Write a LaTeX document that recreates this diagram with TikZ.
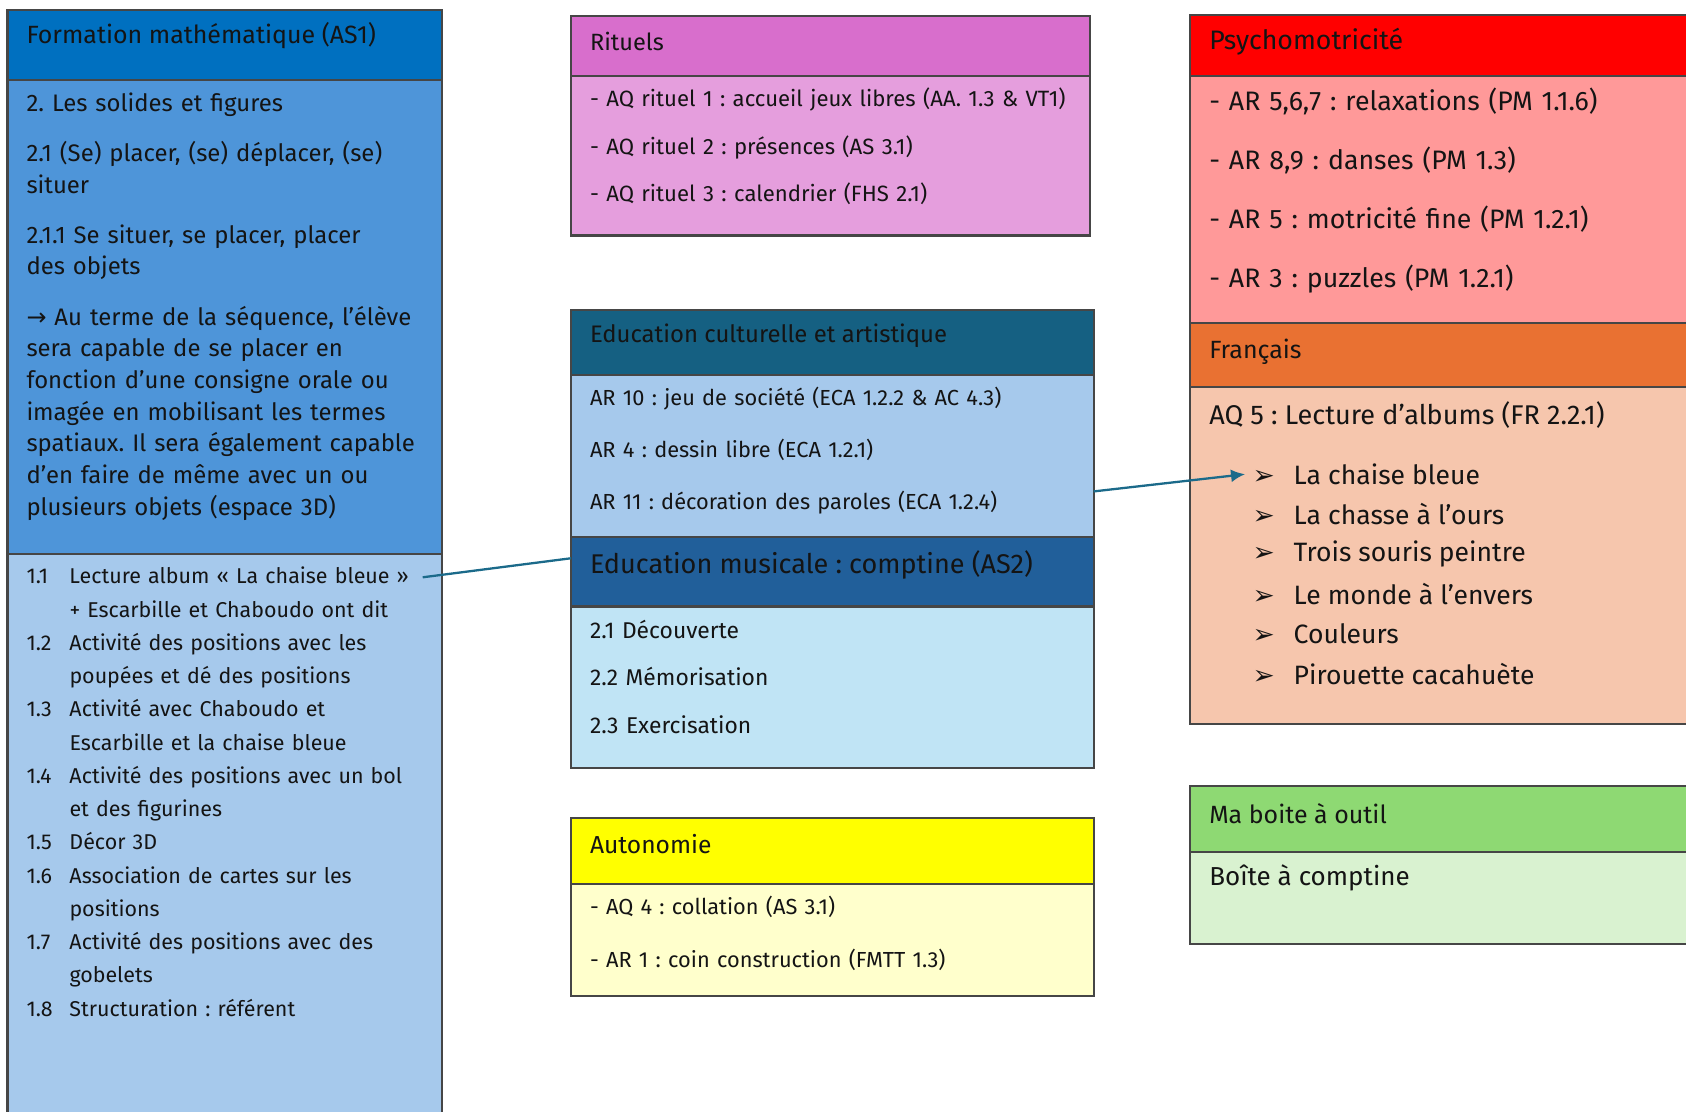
\documentclass[tikz,border=0pt]{standalone}
\usepackage{fontspec}
\setmainfont{Fira Sans}
\newfontfamily\symfont{DejaVu Sans}
\usetikzlibrary{arrows.meta,positioning,calc}
\frenchspacing
\definecolor{PlanEdge}{RGB}{70,70,70}
\definecolor{PlanText}{RGB}{20,20,20}
\definecolor{PlanLink}{RGB}{27,106,138}
\definecolor{MathHead}{RGB}{0,112,192}
\definecolor{MathBody}{RGB}{78,149,217}
\definecolor{MathList}{RGB}{166,201,236}
\definecolor{RitHead}{RGB}{216,110,204}
\definecolor{RitBody}{RGB}{229,158,221}
\definecolor{CulHead}{RGB}{21,96,130}
\definecolor{CulBody}{RGB}{166,201,236}
\definecolor{MusHead}{RGB}{33,95,154}
\definecolor{MusBody}{RGB}{192,228,245}
\definecolor{AutHead}{RGB}{255,255,0}
\definecolor{AutBody}{RGB}{255,255,204}
\definecolor{PsyHead}{RGB}{255,0,0}
\definecolor{PsyBody}{RGB}{255,153,153}
\definecolor{FrHead}{RGB}{233,113,50}
\definecolor{FrBody}{RGB}{246,198,173}
\definecolor{OutHead}{RGB}{142,217,115}
\definecolor{OutBody}{RGB}{217,242,208}
\newcommand\listnum[1]{\makebox[0.43cm][l]{#1}}
\newcommand\listcont{\hspace*{0.43cm}}
\newcommand\bul{\makebox[0.41cm][l]{\symfont ➢}}
\tikzset{
  plan/box/.style={
    draw=PlanEdge,
    line width=0.6pt,
    anchor=north west,
    inner sep=0pt,
    outer sep=0pt
  },
  plan/title/.style={anchor=west, inner sep=0pt, text=PlanText, font=\fontsize{#1}{#1}\selectfont},
  plan/lines/.style={anchor=base west, inner sep=0pt, text=PlanText, align=left, text width=5cm},
  plan/link/.style={line width=0.65pt, draw=PlanLink},
  plan/arrow/.style={-{Latex[length=1.4mm,width=1.3mm]}, line width=0.65pt, draw=PlanLink}
}

\begin{document}
\begin{tikzpicture}[x=1cm,y=1cm]
  \fill[white] (0,0) rectangle (16.86,11.11);
  \useasboundingbox (0,0) rectangle (16.86,11.11);

  % formation mathematique
  \node[plan/box,fill=MathHead,minimum width=4.345cm,minimum height=0.699cm] (mathhead) at (0.075,11.013) {};
  \node[plan/box,fill=MathBody,minimum width=4.345cm,minimum height=4.742cm] (mathbody) at (mathhead.south west) {};
  \node[plan/box,fill=MathList,minimum width=4.345cm,minimum height=5.9cm] (mathlist) at (mathbody.south west) {};
  \node[plan/title=7.1] (mathtitle) at (0.258,10.755) {Formation mathématique (AS1)};
  \node[plan/lines,font=\fontsize{6.8}{9.03}\selectfont] (mathtext) at (0.258,9.995) {%
    2. Les solides et figures\\[5.2pt]
    2.1 (Se) placer, (se) déplacer, (se)\\ situer\\[5.2pt]
    2.1.1 Se situer, se placer, placer\\ des objets\\[5.2pt]
    {\symfont →} Au terme de la séquence, l’élève\\ sera capable de se placer en\\
    fonction d’une consigne orale ou\\ imagée en mobilisant les termes\\
    spatiaux. Il sera également capable\\ d’en faire de même avec un ou\\
    plusieurs objets (espace 3D)};
  \node[plan/lines,font=\fontsize{6.1}{9.46}\selectfont] (mathitems) at (0.258,5.271) {%
    \listnum{1.1}Lecture album « La chaise bleue »\\ \listcont + Escarbille et Chaboudo ont dit\\
    \listnum{1.2}Activité des positions avec les\\ \listcont poupées et dé des positions\\
    \listnum{1.3}Activité avec Chaboudo et\\ \listcont Escarbille et la chaise bleue\\
    \listnum{1.4}Activité des positions avec un bol\\ \listcont et des figurines\\
    \listnum{1.5}Décor 3D\\
    \listnum{1.6}Association de cartes sur les\\ \listcont positions\\
    \listnum{1.7}Activité des positions avec des\\ \listcont gobelets\\
    \listnum{1.8}Structuration : référent};
  \coordinate (lecture) at (4.227,5.337);

  % rituels
  \node[plan/box,fill=RitHead,minimum width=5.194cm,minimum height=0.602cm] (rithead) at (5.710,10.949) {};
  \node[plan/box,fill=RitBody,minimum width=5.194cm,minimum height=1.592cm] (ritbody) at (rithead.south west) {};
  \node[plan/title=6.7] (rittitle) at (5.893,10.691) {Rituels};
  \node[plan/lines,font=\fontsize{6.3}{13.6}\selectfont] (rittext) at (5.893,10.047) {%
    - AQ rituel 1 : accueil jeux libres (AA. 1.3 \& VT1)\\
    - AQ rituel 2 : présences (AS 3.1)\\
    - AQ rituel 3 : calendrier (FHS 2.1)};

  % education culturelle et musicale
  \node[plan/box,fill=CulHead,minimum width=5.226cm,minimum height=0.656cm] (culhead) at (5.710,8.013) {};
  \node[plan/box,fill=CulBody,minimum width=5.226cm,minimum height=1.613cm] (culbody) at (culhead.south west) {};
  \node[plan/box,fill=MusHead,minimum width=5.226cm,minimum height=0.699cm] (mushead) at (culbody.south west) {};
  \node[plan/box,fill=MusBody,minimum width=5.226cm,minimum height=1.613cm] (musbody) at (mushead.south west) {};
  \node[plan/title=6.8] (cultitle) at (5.893,7.755) {Education culturelle et artistique};
  \node[plan/lines,font=\fontsize{6.2}{14.8}\selectfont] (cultext) at (5.893,7.058) {%
    AR 10 : jeu de société (ECA 1.2.2 \& AC 4.3)\\
    AR 4 : dessin libre (ECA 1.2.1)\\
    AR 11 : décoration des paroles (ECA 1.2.4)};
  \node[plan/title=7.7] (mustitle) at (5.893,5.465) {Education musicale : comptine (AS2)};
  \node[plan/lines,font=\fontsize{6.5}{13.6}\selectfont] (mustext) at (5.893,4.728) {%
    2.1 Découverte\\
    2.2 Mémorisation\\
    2.3 Exercisation};

  % autonomie
  \node[plan/box,fill=AutHead,minimum width=5.226cm,minimum height=0.656cm] (authead) at (5.710,2.927) {};
  \node[plan/box,fill=AutBody,minimum width=5.226cm,minimum height=1.118cm] (autbody) at (authead.south west) {};
  \node[plan/title=7.0] (auttitle) at (5.893,2.669) {Autonomie};
  \node[plan/lines,font=\fontsize{6.2}{15}\selectfont] (auttext) at (5.893,1.961) {%
    - AQ 4 : collation (AS 3.1)\\
    - AR 1 : coin construction (FMTT 1.3)};

  % psychomotricite et francais
  \node[plan/box,fill=PsyHead,minimum width=5.3cm,minimum height=0.612cm] (psyhead) at (11.900,10.959) {};
  \node[plan/box,fill=PsyBody,minimum width=5.3cm,minimum height=2.463cm] (psybody) at (psyhead.south west) {};
  \node[plan/box,fill=FrHead,minimum width=5.3cm,minimum height=0.645cm] (frhead) at (psybody.south west) {};
  \node[plan/box,fill=FrBody,minimum width=5.3cm,minimum height=3.366cm] (frbody) at (frhead.south west) {};
  \node[plan/title=7.6] (psytitle) at (12.086,10.691) {Psychomotricité};
  \node[plan/lines,font=\fontsize{7.6}{16.8}\selectfont] (psytext) at (12.086,10.002) {%
    - AR 5,6,7 : relaxations (PM 1.1.6)\\
    - AR 8,9 : danses (PM 1.3)\\
    - AR 5 : motricité fine (PM 1.2.1)\\
    - AR 3 : puzzles (PM 1.2.1)};
  \node[plan/title=7.1] (frtitle) at (12.086,7.594) {Français};
  \node[plan/title=7.7] (albums) at (12.086,6.959) {AQ 5 : Lecture d’albums (FR 2.2.1)};
  \node[plan/title=7.55,inner xsep=0.07cm] (chaise) at (12.45,6.368) {\bul La chaise bleue};
  \node[plan/title=7.55,inner xsep=0.07cm] (chasse) at (12.45,5.968) {\bul La chasse à l’ours};
  \node[plan/title=7.55,inner xsep=0.07cm] (souris) at (12.45,5.568) {\bul Trois souris peintre};
  \node[plan/title=7.55,inner xsep=0.07cm] (monde) at (12.45,5.168) {\bul Le monde à l’envers};
  \node[plan/title=7.55,inner xsep=0.07cm] (couleurs) at (12.45,4.768) {\bul Couleurs};
  \node[plan/title=7.55,inner xsep=0.07cm] (pirouette) at (12.45,4.368) {\bul Pirouette cacahuète};

  % boite a outil
  \node[plan/box,fill=OutHead,minimum width=5.3cm,minimum height=0.656cm] (outhead) at (11.900,3.250) {};
  \node[plan/box,fill=OutBody,minimum width=5.3cm,minimum height=0.925cm] (outbody) at (outhead.south west) {};
  \node[plan/title=7.1] (outtitle) at (12.086,2.970) {Ma boite à outil};
  \node[plan/title=7.4] (outtext) at (12.086,2.336) {Boîte à comptine};

  \draw[plan/link] (lecture) -- ($(mushead.north west)!0.31!(mushead.south west)$);
  \draw[plan/arrow] ($(culbody.north east)!0.72!(culbody.south east)$) -- (chaise.west);
\end{tikzpicture}
\end{document}
